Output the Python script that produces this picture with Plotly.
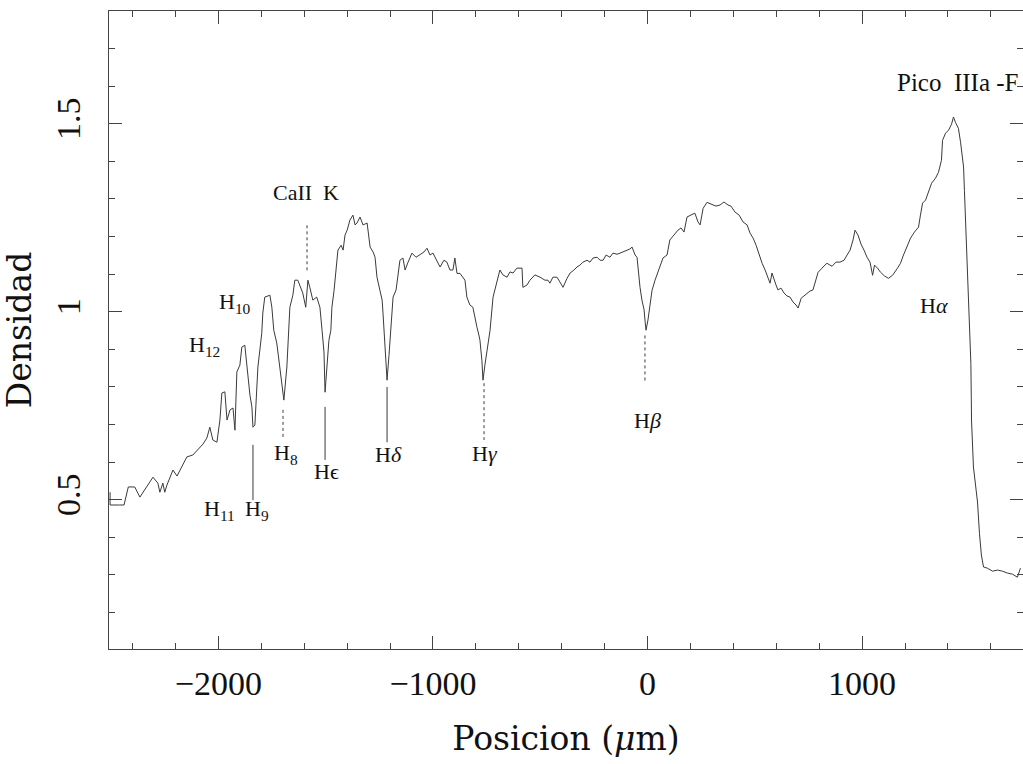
import plotly.graph_objects as go

# Densitometer trace of the plate: position along the spectrum (micrometres) vs density
posicion = [
    -2505, -2505, -2460, -2440, -2420, -2390, -2366, -2305, -2282, -2273, -2259, -2250,
    -2240, -2212, -2193, -2147, -2119, -2086, -2072, -2054, -2040, -2026, -2007, -1993,
    -1984, -1970, -1960, -1946, -1932, -1923, -1914, -1900, -1891, -1877, -1867, -1853,
    -1844, -1839, -1830, -1821, -1816, -1807, -1798, -1793, -1784, -1760, -1751, -1742,
    -1728, -1714, -1695, -1681, -1667, -1653, -1644, -1630, -1607, -1593, -1583, -1574,
    -1560, -1542, -1527, -1517, -1508, -1503, -1494, -1485, -1476, -1471, -1461, -1447,
    -1443, -1428, -1419, -1410, -1400, -1387, -1373, -1363, -1354, -1340, -1326, -1307,
    -1293, -1279, -1270, -1261, -1247, -1237, -1233, -1223, -1219, -1214, -1205, -1200,
    -1191, -1186, -1172, -1154, -1140, -1130, -1116, -1098, -1079, -1061, -1042, -1028,
    -1014, -1000, -981, -967, -949, -935, -921, -907, -898, -888, -874, -851, -842, -828,
    -814, -804, -795, -786, -781, -772, -767, -758, -744, -734, -720, -702, -688, -674,
    -655, -641, -627, -609, -599, -585, -581, -562, -548, -525, -501, -478, -464, -455,
    -441, -422, -408, -394, -375, -361, -343, -329, -315, -301, -282, -268, -254, -235,
    -221, -207, -193, -175, -161, -142, -128, -114, -96, -82, -72, -58, -49, -44, -35,
    -26, -16, -12, -7, 2, 12, 21, 35, 58, 72, 91, 104, 123, 142, 156, 170, 184, 198, 212,
    221, 235, 245, 259, 277, 301, 319, 338, 356, 375, 389, 408, 427, 445, 464, 478, 492,
    506, 520, 534, 548, 562, 571, 580, 590, 599, 608, 622, 636, 650, 664, 678, 692, 702,
    716, 729, 743, 757, 771, 785, 795, 813, 836, 860, 878, 897, 916, 930, 944, 958, 967,
    981, 995, 1009, 1023, 1037, 1049, 1058, 1072, 1086, 1105, 1123, 1142, 1165, 1179,
    1193, 1212, 1226, 1244, 1263, 1272, 1282, 1296, 1310, 1324, 1342, 1356, 1370, 1375,
    1389, 1403, 1417, 1426, 1435, 1449, 1459, 1468, 1473, 1477, 1482, 1487, 1491, 1496,
    1501, 1505, 1507, 1509, 1510, 1519, 1538, 1547, 1556, 1566, 1584, 1608, 1631, 1654,
    1677, 1701, 1724, 1738,
]
densidad = [
    0.520, 0.486, 0.486, 0.486, 0.534, 0.534, 0.507, 0.560, 0.544, 0.520, 0.544, 0.520,
    0.539, 0.579, 0.563, 0.614, 0.619, 0.640, 0.648, 0.664, 0.693, 0.659, 0.653, 0.712,
    0.784, 0.787, 0.712, 0.739, 0.744, 0.685, 0.840, 0.858, 0.906, 0.911, 0.853, 0.778,
    0.747, 0.693, 0.699, 0.800, 0.853, 0.898, 0.943, 0.997, 1.039, 1.044, 1.012, 0.951,
    0.917, 0.853, 0.765, 0.853, 1.012, 1.044, 1.084, 1.084, 1.050, 1.012, 1.084, 1.065,
    1.031, 1.039, 1.012, 0.951, 0.893, 0.786, 0.845, 0.924, 0.951, 1.012, 1.057, 1.129,
    1.164, 1.177, 1.164, 1.204, 1.217, 1.244, 1.257, 1.231, 1.236, 1.252, 1.231, 1.236,
    1.172, 1.159, 1.145, 1.092, 1.058, 1.031, 0.997, 0.906, 0.858, 0.818, 0.884, 0.924,
    0.978, 1.039, 1.058, 1.137, 1.143, 1.111, 1.132, 1.156, 1.145, 1.151, 1.159, 1.169,
    1.151, 1.156, 1.132, 1.119, 1.137, 1.132, 1.111, 1.111, 1.143, 1.102, 1.102, 1.084,
    1.039, 1.018, 1.012, 0.978, 0.959, 0.938, 0.924, 0.871, 0.818, 0.858, 0.917, 0.951,
    1.039, 1.076, 1.111, 1.098, 1.092, 1.106, 1.103, 1.116, 1.116, 1.116, 1.065, 1.071,
    1.084, 1.098, 1.092, 1.084, 1.084, 1.076, 1.092, 1.092, 1.079, 1.065, 1.089, 1.103,
    1.111, 1.119, 1.124, 1.132, 1.137, 1.132, 1.143, 1.145, 1.137, 1.137, 1.151, 1.145,
    1.156, 1.153, 1.156, 1.159, 1.164, 1.167, 1.172, 1.151, 1.145, 1.111, 1.065, 1.031,
    1.005, 0.978, 0.951, 0.978, 1.018, 1.057, 1.084, 1.124, 1.143, 1.151, 1.191, 1.204,
    1.217, 1.223, 1.212, 1.252, 1.257, 1.260, 1.262, 1.239, 1.231, 1.275, 1.291, 1.284,
    1.281, 1.284, 1.292, 1.284, 1.281, 1.265, 1.257, 1.239, 1.231, 1.209, 1.196, 1.177,
    1.151, 1.129, 1.111, 1.092, 1.076, 1.103, 1.084, 1.071, 1.058, 1.063, 1.050, 1.042,
    1.039, 1.026, 1.018, 1.010, 1.036, 1.042, 1.050, 1.055, 1.058, 1.084, 1.105, 1.116,
    1.129, 1.121, 1.132, 1.132, 1.137, 1.151, 1.164, 1.191, 1.217, 1.204, 1.180, 1.164,
    1.145, 1.132, 1.097, 1.124, 1.116, 1.105, 1.095, 1.089, 1.097, 1.116, 1.129, 1.151,
    1.177, 1.196, 1.212, 1.225, 1.257, 1.289, 1.297, 1.318, 1.342, 1.355, 1.371, 1.403,
    1.456, 1.475, 1.483, 1.499, 1.518, 1.504, 1.488, 1.451, 1.417, 1.385, 1.323, 1.252,
    1.191, 1.124, 1.058, 0.978, 0.911, 0.863, 0.773, 0.712, 0.587, 0.494, 0.411, 0.353,
    0.321, 0.318, 0.310, 0.313, 0.310, 0.305, 0.302, 0.294, 0.318,
]

# Line identifications: position, density at top and bottom of the marker, dash
lineas_x = [-1587, -1699, -1503, -1839, -1214, -762, -12]
lineas_y0 = [1.230, 0.739, 0.747, 0.646, 0.800, 0.810, 0.937]
lineas_y1 = [1.106, 0.667, 0.606, 0.499, 0.653, 0.659, 0.813]
lineas_dash = ["dot", "dot", "solid", "solid", "solid", "dot", "dot"]

# Labels: text, x (left edge), y (middle)
etiquetas = ["H<sub>10</sub>", "H<sub>12</sub>", "H<sub>8</sub>", "H\u03f5", "H<i>\u03b4</i>",
             "H<i>\u03b3</i>", "H<i>\u03b2</i>", "H<i>\u03b1</i>", "H<sub>11</sub>", "H<sub>9</sub>"]
etiquetas_x = [-2007, -2147, -1751, -1564, -1280, -828, -72, 1261, -2077, -1886]
etiquetas_y = [1.023, 0.909, 0.621, 0.574, 0.621, 0.624, 0.712, 1.018, 0.473, 0.473]

FONT = "Liberation Serif, Times New Roman, serif"
TITLE_FONT = "DejaVu Serif, Liberation Serif, serif"
INK = "#3a3a3a"
AXIS = "#444"

fig = go.Figure()
fig.add_trace(go.Scatter(x=posicion, y=densidad, mode="lines",
                         line=dict(color=INK, width=1), hoverinfo="skip"))

for x, y0, y1, d in zip(lineas_x, lineas_y0, lineas_y1, lineas_dash):
    fig.add_shape(type="line", x0=x, x1=x, y0=y0, y1=y1, xref="x", yref="y",
                  line=dict(color=INK, width=1, dash=d))

for t, x, y in zip(etiquetas, etiquetas_x, etiquetas_y):
    fig.add_annotation(x=x, y=y, text=t, showarrow=False, xanchor="left", yanchor="middle",
                       font=dict(family=FONT, size=22, color="#111"))

fig.add_annotation(x=-1592, y=1.318, text="CaII  K", showarrow=False,
                   xanchor="center", yanchor="middle", font=dict(family=FONT, size=22, color="#111"))
fig.add_annotation(x=1740, y=1.611, text="Pico  IIIa -F", showarrow=False,
                   xanchor="right", yanchor="middle", font=dict(family=FONT, size=25, color="#111"))

axis_common = dict(showline=True, linecolor=AXIS, linewidth=1, mirror="ticks",
                   ticks="inside", tickcolor=AXIS, showgrid=False, zeroline=False,
                   tickfont=dict(family=FONT, size=34, color="#111"))

fig.update_xaxes(range=[-2510, 1750], tickvals=[-2000, -1000, 0, 1000], ticklen=13,
                 minor=dict(dtick=200, tick0=0, ticks="inside", ticklen=6, tickcolor=AXIS),
                 ticklabelstandoff=4,
                 title=dict(text="Posicion (<i>\u03bc</i>m)",
                            font=dict(family=TITLE_FONT, size=33, color="#111"),
                            standoff=26),
                 **axis_common)
fig.update_yaxes(range=[0.103, 1.800], tick0=0.5, dtick=0.5, ticklen=13, tickangle=-90,
                 minor=dict(dtick=0.1, tick0=0, ticks="inside", ticklen=6, tickcolor=AXIS),
                 ticklabelstandoff=14,
                 title=dict(text="Densidad", font=dict(family=TITLE_FONT, size=33, color="#111"),
                            standoff=10),
                 **axis_common)

fig.update_layout(width=1023, height=764, margin=dict(l=109, r=0, t=11, b=115),
                  paper_bgcolor="white", plot_bgcolor="white", showlegend=False)

fig.write_html("out.html")
